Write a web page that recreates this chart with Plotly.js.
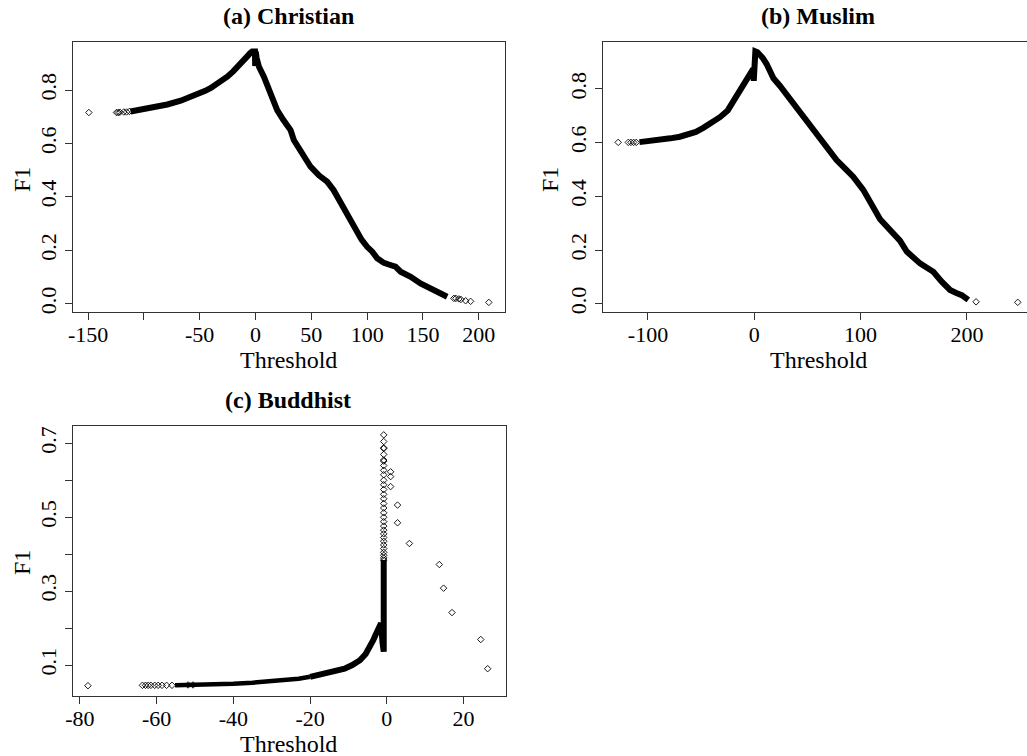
<!DOCTYPE html>
<html>
<head>
<meta charset="utf-8">
<script src="https://cdn.plot.ly/plotly-3.0.1.min.js"></script>
<style>html,body{margin:0;padding:0;background:#fff;overflow:hidden;}#chart{width:1027px;height:756px;}</style>
</head>
<body>
<div id="chart"></div>
<script>
// ---------- Data ----------
// (a) Christian: dense band of points (drawn as a thick stroke) and separated points
const aBandX = [-112, -100, -90, -79, -67, -60, -55, -50, -45, -40, -35, -30, -25, -20, -15, -10, -7, -5, -3, -0.5, -0.3, 0.2, 1, 3, 7.5, 10.5, 15, 19.4, 25, 31.4, 34.3, 40, 49.3, 57, 64.2, 70, 73.2, 78, 82, 86, 91, 95, 100, 104.6, 109, 115, 120, 125.4, 130, 139, 147.8, 153, 159.8, 166, 171.7];
const aBandY = [0.72, 0.728, 0.736, 0.746, 0.76, 0.77, 0.778, 0.787, 0.797, 0.808, 0.821, 0.835, 0.851, 0.87, 0.89, 0.913, 0.928, 0.938, 0.944, 0.944, 0.89, 0.944, 0.92, 0.888, 0.85, 0.82, 0.78, 0.725, 0.688, 0.65, 0.613, 0.575, 0.513, 0.48, 0.457, 0.425, 0.40, 0.37, 0.338, 0.30, 0.263, 0.24, 0.213, 0.195, 0.17, 0.153, 0.146, 0.139, 0.12, 0.101, 0.076, 0.064, 0.051, 0.038, 0.026];
const aPtsX = [-149.3, -124.5, -123, -121.5, -118, -115.5, -113, 177.7, 179.5, 182.2, 184, 188.2, 192.7, 209];
const aPtsY = [0.716, 0.716, 0.716, 0.717, 0.718, 0.718, 0.72, 0.020, 0.020, 0.018, 0.016, 0.011, 0.009, 0.005];

// (b) Muslim
const bBandX = [-108, -100, -90, -79, -70, -63.6, -55, -48, -40, -32.3, -25, -19.7, -15, -10.3, -6, -4, -2, -1, -0.5, 0.3, 1, 3, 5.3, 8, 11.6, 15, 18, 24, 30.4, 38, 46, 52, 55.5, 58.7, 61.8, 70, 77.4, 85, 93, 102.5, 110, 118.3, 124, 130.8, 137, 143.4, 149.5, 155.9, 162, 168.4, 176.3, 184.1, 190, 195.1, 201.3];
const bBandY = [0.602, 0.605, 0.61, 0.616, 0.622, 0.629, 0.64, 0.655, 0.673, 0.695, 0.72, 0.755, 0.785, 0.815, 0.84, 0.855, 0.868, 0.875, 0.83, 0.94, 0.94, 0.937, 0.93, 0.915, 0.893, 0.865, 0.84, 0.812, 0.778, 0.74, 0.695, 0.665, 0.648, 0.63, 0.61, 0.57, 0.535, 0.505, 0.473, 0.424, 0.37, 0.315, 0.29, 0.262, 0.235, 0.194, 0.169, 0.150, 0.135, 0.119, 0.082, 0.051, 0.04, 0.032, 0.014];
const bPtsX = [-128, -118.5, -116, -113.5, -111, 208.6, 247.8];
const bPtsY = [0.601, 0.601, 0.601, 0.601, 0.601, 0.007, 0.005];

// (c) Buddhist: left (thinner) and right (thicker) parts of the dense band
const cBandLeftX = [-55.2, -50, -45, -40, -35, -30, -27, -23, -20];
const cBandLeftY = [0.045, 0.046, 0.047, 0.049, 0.052, 0.056, 0.059, 0.063, 0.068];
const cBandRightX = [-20, -17, -13.9, -11, -9, -7, -5.5, -4.3, -3.5, -3, -2.4, -1.9, -1.5, -1.1, -0.8, -0.8];
const cBandRightY = [0.068, 0.074, 0.082, 0.09, 0.1, 0.113, 0.13, 0.15, 0.168, 0.18, 0.193, 0.205, 0.213, 0.16, 0.136, 0.384];
const cPtsX = [-77.9, -63.7, -62.9, -62.2, -61.5, -60.5, -59.6, -58.6, -57.4, -56, -51.8, -50.5,
  -0.8, -0.8, -0.8, -0.8, -0.8, -0.8, -0.8, -0.8, -0.8, -0.8, -0.8, -0.8, -0.8, -0.8, -0.8, -0.8, -0.8, -0.8, -0.8, -0.8, -0.8, -0.8, -0.8, -0.8, -0.8, -0.8, -0.8, -0.8, -0.8, -0.8, -0.8,
  1.0, 1.0, 1.0, 2.8, 2.8, 5.9, 13.7, 14.8, 17, 24.5, 26.3];
const cPtsY = [0.044, 0.045, 0.045, 0.045, 0.045, 0.045, 0.045, 0.045, 0.045, 0.045, 0.046, 0.046,
  0.723, 0.705, 0.688, 0.686, 0.67, 0.655, 0.652, 0.64, 0.627, 0.615, 0.60, 0.588, 0.575, 0.562, 0.55, 0.537, 0.525, 0.512, 0.50, 0.488, 0.476, 0.465, 0.455, 0.445, 0.435, 0.425, 0.415, 0.405, 0.397, 0.39, 0.384,
  0.623, 0.610, 0.583, 0.533, 0.485, 0.429, 0.372, 0.308, 0.242, 0.169, 0.09];

// Tick labels
const aXTicks = [-150, -100, -50, 0, 50, 100, 150, 200];
const aXText = ['-150', '', '-50', '0', '50', '100', '150', '200'];
const bXTicks = [-100, 0, 100, 200];
const bXText = ['-100', '0', '100', '200'];
const cXTicks = [-80, -60, -40, -20, 0, 20];
const cXText = ['-80', '-60', '-40', '-20', '0', '20'];
const abYTicks = [0, 0.2, 0.4, 0.6, 0.8];
const abYText = ['0.0', '0.2', '0.4', '0.6', '0.8'];
const cYTicks = [0.1, 0.2, 0.3, 0.4, 0.5, 0.6, 0.7];
const cYText = ['0.1', '', '0.3', '', '0.5', '', '0.7'];

const panelTitles = ['(a) Christian', '(b) Muslim', '(c) Buddhist'];
const xTitle = 'Threshold';
const yTitle = 'F1';

// ---------- Drawing ----------
const W = 1027, H = 756;
const FONT = 'Liberation Serif';

function band(x, y, xa, ya, w) {
  return {x: x, y: y, xaxis: xa, yaxis: ya, type: 'scatter', mode: 'lines',
    line: {color: '#000', width: w}, hoverinfo: 'x+y'};
}
function pts(x, y, xa, ya) {
  return {x: x, y: y, xaxis: xa, yaxis: ya, type: 'scatter', mode: 'markers',
    marker: {symbol: 'diamond-open', size: 5, color: '#000', line: {width: 0.9, color: '#000'}}, hoverinfo: 'x+y'};
}

const data = [
  band(aBandX, aBandY, 'x', 'y', 6), pts(aPtsX, aPtsY, 'x', 'y'),
  band(bBandX, bBandY, 'x2', 'y2', 6), pts(bPtsX, bPtsY, 'x2', 'y2'),
  band(cBandLeftX, cBandLeftY, 'x3', 'y3', 4.5), band(cBandRightX, cBandRightY, 'x3', 'y3', 6),
  pts(cPtsX, cPtsY, 'x3', 'y3')
];

function xAx(l, r, range, tv, tt, anchor) {
  return {domain: [l / W, r / W], range: range, anchor: anchor, tickmode: 'array', tickvals: tv, ticktext: tt,
    showgrid: false, zeroline: false, showline: true, mirror: true, linecolor: '#333', linewidth: 1,
    ticks: 'outside', ticklen: 7, tickcolor: '#333', tickwidth: 1, ticklabelstandoff: -4,
    tickfont: {family: FONT, size: 22, color: '#000'}, fixedrange: true};
}
function yAx(top, bot, range, tv, tt, anchor) {
  return {domain: [1 - bot / H, 1 - top / H], range: range, anchor: anchor, tickmode: 'array', tickvals: tv, ticktext: tt,
    tickangle: -90, showgrid: false, zeroline: false, showline: true, mirror: true, linecolor: '#333', linewidth: 1,
    ticks: 'outside', ticklen: 7, tickcolor: '#333', tickwidth: 1,
    tickfont: {family: FONT, size: 22, color: '#000'}, fixedrange: true};
}

function ann(text, px, py, size, angle) {
  return {text: text, x: px / W, y: 1 - py / H, xref: 'paper', yref: 'paper', showarrow: false,
    xanchor: 'center', yanchor: 'middle', textangle: angle || 0,
    font: {family: FONT, size: size, color: '#000'}};
}

const layout = {
  width: W, height: H,
  margin: {l: 0, r: 0, t: 0, b: 0},
  paper_bgcolor: '#fff', plot_bgcolor: '#fff',
  showlegend: false,
  font: {family: FONT, color: '#000'},
  xaxis: xAx(73, 505, [-163.5, 223.5], aXTicks, aXText, 'y'),
  yaxis: yAx(42, 312, [-0.031, 0.98], abYTicks, abYText, 'x'),
  xaxis2: xAx(603, 1027, [-142.3, 256.5], bXTicks, bXText, 'y2'),
  yaxis2: yAx(42, 312, [-0.031, 0.975], abYTicks, abYText, 'x2'),
  xaxis3: xAx(73, 505.7, [-81.8, 31.0], cXTicks, cXText, 'y3'),
  yaxis3: yAx(426, 696, [0.0161, 0.747], cYTicks, cYText, 'x3'),
  annotations: [
    ann('<b>' + panelTitles[0] + '</b>', 288, 16, 24),
    ann('<b>' + panelTitles[1] + '</b>', 818, 16, 24),
    ann('<b>' + panelTitles[2] + '</b>', 288, 400, 24),
    ann(xTitle, 288, 360, 24), ann(yTitle, 22, 180, 24, -90),
    ann(xTitle, 818, 360, 24), ann(yTitle, 550, 180, 24, -90),
    ann(xTitle, 288, 743.5, 24), ann(yTitle, 22, 563, 24, -90)
  ]
};

Plotly.newPlot('chart', data, layout, {displayModeBar: false, staticPlot: true});
</script>
</body>
</html>
